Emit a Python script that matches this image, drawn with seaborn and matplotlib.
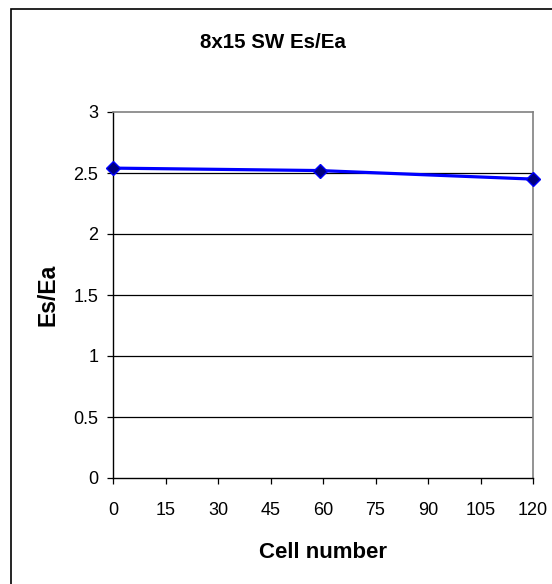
import matplotlib
matplotlib.use("Agg")
import matplotlib.pyplot as plt
from matplotlib.patches import Rectangle
import seaborn as sns
import pandas as pd

# Es/Ea ratio measured along the cell string
cell_number = [0, 59, 120]
es_ea = [2.54, 2.52, 2.45]
x_ticks = [0, 15, 30, 45, 60, 75, 90, 105, 120]
y_ticks = [0, 0.5, 1, 1.5, 2, 2.5, 3]
y_tick_labels = ["0", "0.5", "1", "1.5", "2", "2.5", "3"]

sns.set_theme(style="white")
plt.rcParams["font.family"] = ["Liberation Sans", "DejaVu Sans"]
plt.rcParams["text.color"] = "black"
plt.rcParams["axes.labelcolor"] = "black"

df = pd.DataFrame({"Cell number": cell_number, "Es/Ea": es_ea})

fig = plt.figure(figsize=(5.52, 5.84), dpi=100)
ax = fig.add_axes([113 / 552, 1 - 478 / 584, 420 / 552, 366 / 584])

sns.lineplot(data=df, x="Cell number", y="Es/Ea", ax=ax, color="#0000FF",
             linewidth=2.3, marker="D", markersize=7.5,
             markerfacecolor="#000080", markeredgecolor="#0000FF",
             markeredgewidth=1.0, clip_on=False, zorder=5)

ax.set_xlim(0, 120)
ax.set_ylim(0, 3)
ax.set_xticks(x_ticks)
ax.set_xticklabels([str(t) for t in x_ticks])
ax.set_yticks(y_ticks)
ax.set_yticklabels(y_tick_labels)

# horizontal gridlines only
for y in y_ticks[1:-1]:
    ax.axhline(y, color="black", linewidth=0.9, zorder=1)

for side in ("left", "bottom"):
    ax.spines[side].set_color("black")
    ax.spines[side].set_linewidth(1.0)
for side in ("top", "right"):
    ax.spines[side].set_color("#808080")
    ax.spines[side].set_linewidth(1.2)
    ax.spines[side].set_visible(True)

ax.tick_params(axis="both", which="major", direction="out", length=4.5,
               width=0.9, color="black", labelsize=13, labelcolor="black",
               left=True, bottom=True)
ax.tick_params(axis="x", pad=13)
ax.tick_params(axis="y", pad=6)

ax.set_xlabel("Cell number", fontsize=16, fontweight="bold", labelpad=16,
              color="black")
ax.set_ylabel("Es/Ea", fontsize=16.5, fontweight="bold", labelpad=10,
              color="black")

fig.text(273 / 552, 1 - 42 / 584, "8x15 SW Es/Ea", ha="center", va="center",
         fontsize=14.8, fontweight="bold", color="black")

# chart-area frame
fig.add_artist(Rectangle((11 / 552, -0.05), 1.2, (584 - 9) / 584 + 0.05,
                         transform=fig.transFigure, fill=False,
                         edgecolor="black", linewidth=1.2))

fig.savefig("out.png", dpi=100)
